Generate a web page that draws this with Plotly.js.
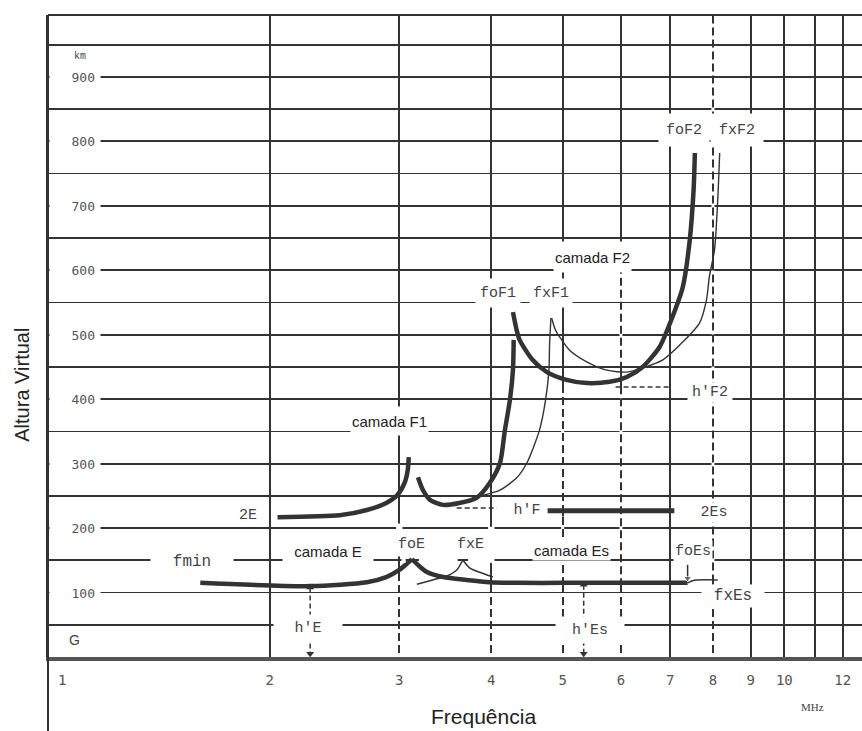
<!DOCTYPE html>
<html><head><meta charset="utf-8">
<script src="https://cdn.plot.ly/plotly-3.0.1.min.js"></script>
<style>html,body{margin:0;padding:0;background:#fff}#chart{width:862px;height:731px}</style>
</head><body><div id="chart"></div>
<script>
// ---- Ionogram traces: frequency (MHz) vs virtual height (km) ----
const eOrdLeftF  = [1.61, 2.27, 2.71, 2.88, 3.00, 3.08, 3.12];
const eOrdLeftH  = [115, 110, 116, 124, 135, 146, 152];
const eOrdRightF = [3.12, 3.20, 3.27, 3.44, 3.70, 3.98, 4.37, 5.00, 6.00, 7.39];
const eOrdRightH = [152, 140, 132, 124, 119.5, 116, 115, 115, 115, 115];
const esTailF = [7.39, 7.55, 8.12];
const esTailH = [115, 119, 119.5];
const eExtLeftF  = [3.17, 3.33, 3.48, 3.59, 3.66];
const eExtLeftH  = [113, 119.5, 125.7, 135, 150.5];
const eExtRightF = [3.66, 3.74, 3.89, 4.02];
const eExtRightH = [150.5, 138, 130, 124];
const fLowF = [2.05, 2.49, 2.71, 2.88, 2.98, 3.05, 3.08, 3.09];
const fLowH = [217, 220, 228, 239, 251, 270, 290, 310];
const f1OrdF = [3.18, 3.23, 3.30, 3.44, 3.62, 3.82, 3.98, 4.11, 4.17, 4.24, 4.28, 4.29];
const f1OrdH = [279, 259, 244, 236, 239, 247, 270, 301, 349, 399, 445, 492];
const f1ExtF = [3.77, 4.11, 4.33, 4.47, 4.65, 4.74, 4.79, 4.80, 4.82];
const f1ExtH = [247, 259, 278, 301, 352, 399, 445, 487, 526];
const f2OrdF = [4.28, 4.33, 4.37, 4.55, 4.76, 5.06, 5.39, 5.79, 6.11, 6.42, 6.77, 7.05, 7.28, 7.44, 7.53, 7.56];
const f2OrdH = [535, 507, 492, 461, 442, 430, 425, 427, 434.5, 450, 481, 528, 574, 647, 725, 782];
const f2ExtF = [4.83, 4.89, 4.95, 5.11, 5.39, 5.74, 6.11, 6.42, 6.84, 7.21, 7.67, 7.84, 7.91, 8.04, 8.12, 8.17];
const f2ExtH = [526, 507, 497, 476, 458, 445, 442, 448.5, 461, 484, 518, 554, 590, 632, 709, 782];
const es2F = [4.77, 7.09];
const es2H = [227, 227];
// guide lines / arrows
const hpFF = [3.59, 4.07],  hpFH = [231, 231];
const hpF2F = [5.90, 7.03], hpF2H = [419, 419];
const hEF = [2.27, 2.27],   hEH = [108, 5];
const hEsF = [5.34, 5.34],  hEsH = [112, 5];
const foEsF = [7.39, 7.39], foEsH = [143, 122];
// ticks
const xTickVals = [1, 2, 3, 4, 5, 6, 7, 8, 9, 10, 11, 12];
const xTickText = ['', '2', '3', '4', '5', '6', '7', '8', '9', '10', '', '12'];
const yGridVals = [50, 100, 150, 200, 250, 300, 350, 400, 450, 500, 550, 600, 650, 700, 750, 800, 850, 900, 950];
const yLabelVals = [100, 200, 300, 400, 500, 600, 700, 800, 900];

const XR = [0, 1.1055], YR = [0, 996];
const xp = f => Math.log10(f) / XR[1];
const INK = '#333';

function line(x, y, w, extra) {
  return Object.assign({x, y, type: 'scatter', mode: 'lines', hoverinfo: 'skip',
    line: {color: INK, width: w, shape: 'spline', smoothing: 0.7}}, extra || {});
}
const traces = [
  line(eOrdLeftF, eOrdLeftH, 4.5),
  line(eOrdRightF, eOrdRightH, 4.5),
  line(esTailF, esTailH, 1.5),
  line(eExtLeftF, eExtLeftH, 1.5),
  line(eExtRightF, eExtRightH, 1.5),
  line(fLowF, fLowH, 4.5),
  line(f1OrdF, f1OrdH, 4.5),
  line(f1ExtF, f1ExtH, 1.4),
  line(f2OrdF, f2OrdH, 4.5),
  line(f2ExtF, f2ExtH, 1.4),
  line(es2F, es2H, 5),
  {x: hpFF, y: hpFH, type: 'scatter', mode: 'lines', hoverinfo: 'skip', line: {color: INK, width: 1.5, dash: '5px,3px'}},
  {x: hpF2F, y: hpF2H, type: 'scatter', mode: 'lines', hoverinfo: 'skip', line: {color: INK, width: 1.5, dash: '5px,3px'}},
  {x: hEF, y: hEH, type: 'scatter', mode: 'lines+markers', hoverinfo: 'skip', line: {color: INK, width: 1.5, dash: '5px,3px'},
    marker: {symbol: ['triangle-up', 'triangle-down'], size: 7, color: INK}},
  {x: hEsF, y: hEsH, type: 'scatter', mode: 'lines+markers', hoverinfo: 'skip', line: {color: INK, width: 1.5, dash: '5px,3px'},
    marker: {symbol: ['triangle-up', 'triangle-down'], size: 7, color: INK}},
  {x: foEsF, y: foEsH, type: 'scatter', mode: 'lines+markers', hoverinfo: 'skip', line: {color: INK, width: 1.5},
    marker: {symbol: ['circle', 'triangle-down'], size: [0, 7], color: INK}}
];

const MONO = 'Liberation Mono, Courier New, monospace';
const SANS = 'Liberation Sans, Arial, sans-serif';
function lab(text, f, h, o) {
  return Object.assign({xref: 'x', yref: 'y', x: Math.log10(f), y: h, text, showarrow: false,
    xanchor: 'center', yanchor: 'middle',
    bgcolor: 'white', borderpad: 1, font: {family: MONO, size: 15, color: '#444'}}, o || {});
}
function pap(text, x, y, o) {
  return Object.assign({xref: 'paper', yref: 'paper', x, y, text, showarrow: false,
    xanchor: 'center', yanchor: 'middle'}, o || {});
}
const annotations = [];
yLabelVals.forEach(v => annotations.push({xref: 'paper', yref: 'y', x: 0, xanchor: 'left', yanchor: 'middle', xshift: 1, y: v,
  text: String(v), showarrow: false, width: 40, height: 16, borderpad: 5, align: 'right', bgcolor: 'white',
  font: {family: 'DejaVu Sans Mono, monospace', size: 13, color: '#555'}}));
annotations.push(
  {xref: 'paper', yref: 'y', x: 0.039, y: 931, xanchor: 'center', yanchor: 'middle', text: 'km', showarrow: false,
    font: {family: MONO, size: 10, color: '#444'}},
  pap('1', 0.0172, -0.036, {font: {family: 'DejaVu Sans Mono, monospace', size: 14, color: '#555'}}),
  lab('G', 1.087, 26, {font: {family: SANS, size: 14, color: '#444'}}),
  lab('2E', 1.867, 220, {width: 30}),
  lab('fmin', 1.568, 147, {width: 80, height: 22, font: {family: MONO, size: 16, color: '#444'}}),
  lab('camada E', 2.398, 164.5, {width: 88, height: 24, font: {family: SANS, size: 15, color: '#222'}}),
  lab('foE', 3.118, 175, {height: 18}),
  lab('fxE', 3.75, 175, {height: 18}),
  lab('camada Es', 5.142, 166, {height: 18, font: {family: SANS, size: 15, color: '#222'}}),
  lab('foEs', 7.508, 165, {height: 18}),
  lab('fxEs', 8.507, 95, {width: 60, height: 20, font: {family: MONO, size: 16, color: '#444'}}),
  lab("h'E", 2.253, 45, {width: 66, height: 24}),
  lab("h'Es", 5.441, 42, {width: 66, height: 24}),
  lab("h'F", 4.467, 227, {width: 34}),
  lab('2Es', 8.017, 224, {width: 36}),
  lab("h'F2", 7.914, 411, {width: 42}),
  lab('camada F1', 2.911, 366, {height: 26, font: {family: SANS, size: 15, color: '#222'}}),
  lab('camada F2', 5.493, 621, {height: 28, font: {family: SANS, size: 15, color: '#222'}}),
  lab('foF1', 4.08, 565, {width: 42, height: 26}),
  lab('fxF1', 4.815, 565, {width: 40, height: 26}),
  lab('foF2', 7.298, 818, {width: 48, height: 30}),
  lab('fxF2', 8.613, 818, {width: 50, height: 30}),
  pap('MHz', 0.9398, -0.078, {font: {family: 'Liberation Serif, serif', size: 11, color: '#444'}}),
  pap('Frequência', 0.5344, -0.092, {font: {family: SANS, size: 21, color: '#222'}}),
  pap('Altura Virtual', -0.032, 0.424, {textangle: -90, font: {family: SANS, size: 20, color: '#222'}})
);

function dashOverlay(f, h0, h1) {
  return {type: 'line', layer: 'above', xref: 'paper', yref: 'y', x0: xp(f), x1: xp(f), y0: h0, y1: h1,
    line: {color: 'white', width: 3, dash: '4px,8px'}};
}
function mask(f0, f1, h0, h1) {
  return {type: 'rect', layer: 'above', xref: 'paper', yref: 'y', x0: xp(f0), x1: xp(f1), y0: h0, y1: h1,
    fillcolor: 'white', line: {width: 0}};
}
const shapes = [
  dashOverlay(3, 0, 127), dashOverlay(4, 0, 108),
  dashOverlay(5, 0, 106), dashOverlay(5, 124, 218), dashOverlay(5, 236, 420),
  dashOverlay(6, 0, 108), dashOverlay(6, 122, 418), dashOverlay(6, 458, 600),
  dashOverlay(8, 0, 112), dashOverlay(8, 128, 600), dashOverlay(8, 660, 996),
  mask(3.02, 3.06, 146, 155), mask(3.19, 3.60, 146, 155), mask(3.72, 3.98, 146, 155),
  mask(2.97, 3.03, 156, 207), mask(3.96, 4.04, 146, 202),
  {type: 'line', xref: 'paper', yref: 'paper', x0: 0, x1: 1, y0: 1, y1: 1, line: {color: INK, width: 2}},
  {type: 'line', xref: 'paper', yref: 'paper', x0: 0, x1: 0, y0: -74 / 642, y1: 1, line: {color: INK, width: 2}}
];

const layout = {
  width: 862, height: 731, margin: {l: 48, r: 0, t: 15, b: 74},
  paper_bgcolor: 'white', plot_bgcolor: 'white', showlegend: false,
  xaxis: {type: 'log', range: XR, tickmode: 'array', tickvals: xTickVals, ticktext: xTickText,
    showgrid: true, gridcolor: INK, gridwidth: 1.8, zeroline: false, ticks: '',
    showline: true, linecolor: '#555', linewidth: 4, ticklabelstandoff: 7,
    tickfont: {family: 'DejaVu Sans Mono, monospace', size: 14, color: '#555'}},
  yaxis: {range: YR, tickmode: 'array', tickvals: yGridVals, showticklabels: false,
    showgrid: true, gridcolor: INK, gridwidth: 1.8, zeroline: false, ticks: '',
    showline: true, linecolor: INK, linewidth: 2},
  annotations, shapes
};
Plotly.newPlot('chart', traces, layout, {staticPlot: true, displayModeBar: false});
</script>
</body></html>
